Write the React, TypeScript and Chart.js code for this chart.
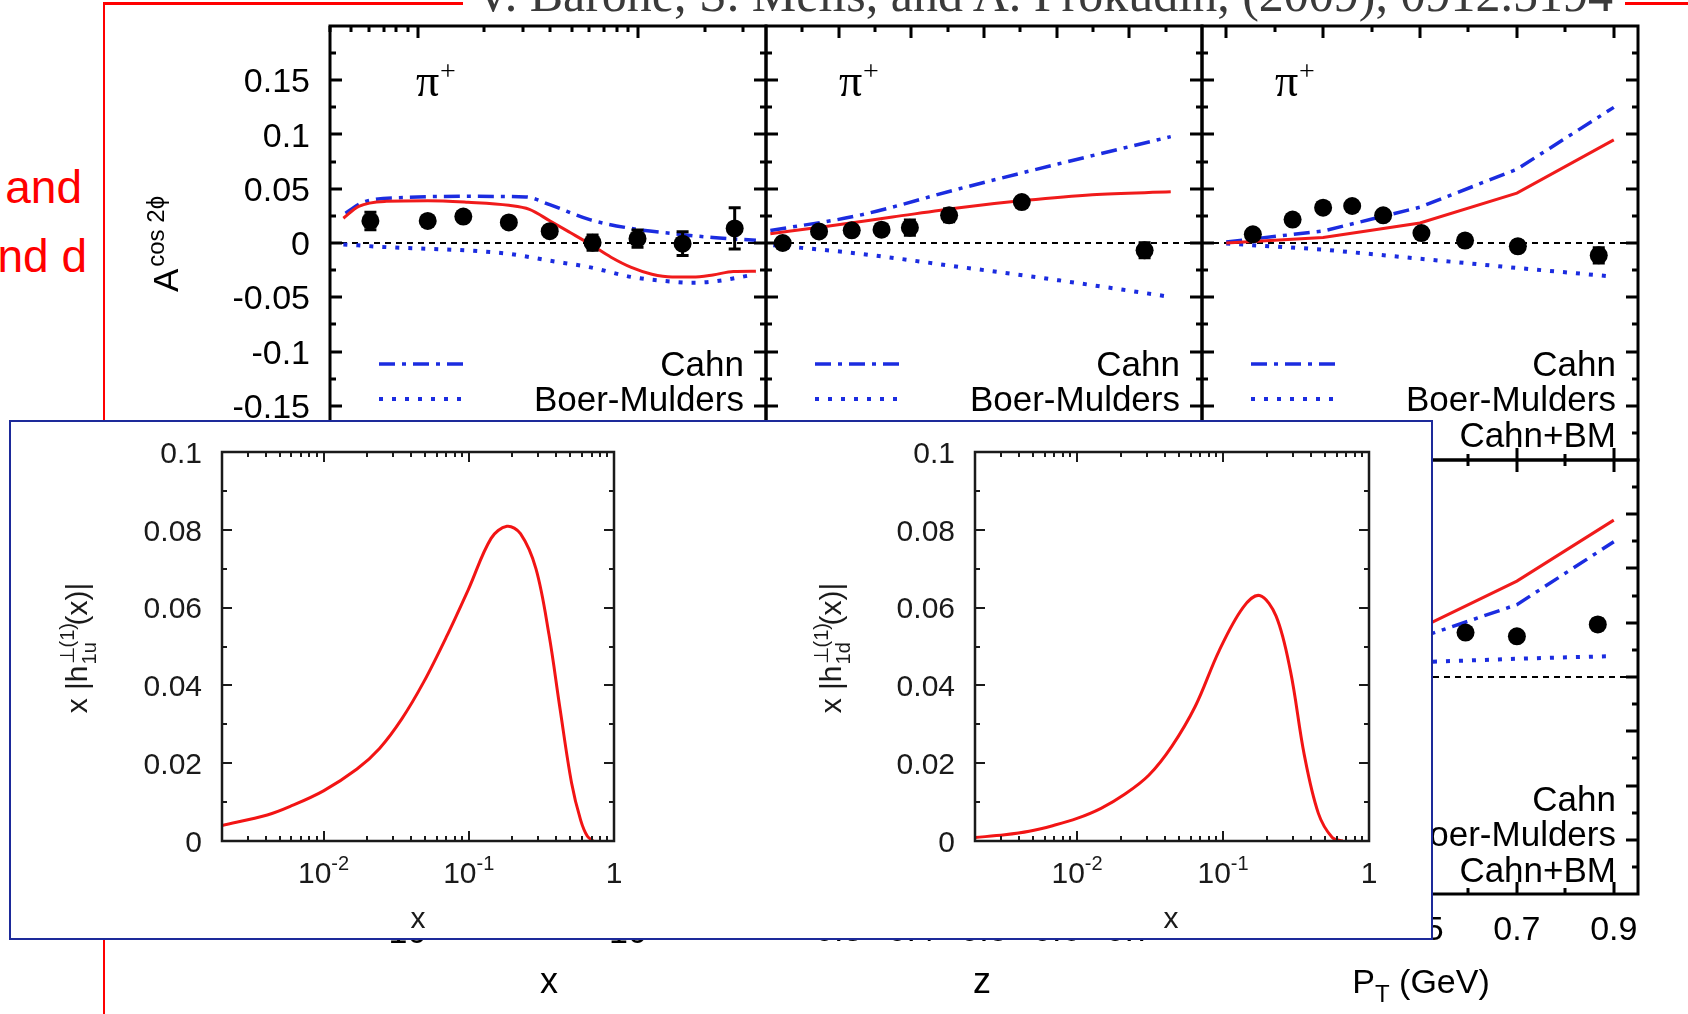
import React, { useEffect, useRef } from "react";
import { Chart, registerables } from "chart.js";

Chart.register(...registerables);

/* ================= values ================= */
// top row, x panel (log x)
const xCahnX = [0.0047, 0.0058, 0.0089, 0.0169, 0.0308, 0.0397, 0.0608, 0.0931, 0.1426, 0.2183, 0.342];
const xCahnY = [0.0275, 0.0384, 0.042, 0.043, 0.0425, 0.0353, 0.0213, 0.0134, 0.0088, 0.005, 0.0025];
const xBMX = [0.0046, 0.0072, 0.0111, 0.0169, 0.0259, 0.0397, 0.0608, 0.0931, 0.1426, 0.1766, 0.2183, 0.342];
const xBMY = [-0.0013, -0.0038, -0.0053, -0.0069, -0.01, -0.0163, -0.0225, -0.0313, -0.0356, -0.0366, -0.0356, -0.0288];
const xSumX = [0.0046, 0.0054, 0.0072, 0.0111, 0.0169, 0.0259, 0.0321, 0.0397, 0.0491, 0.0608, 0.0753, 0.0931, 0.1154, 0.1426, 0.1766, 0.2183, 0.2704, 0.342];
const xSumY = [0.0228, 0.0338, 0.0384, 0.039, 0.0375, 0.0347, 0.031, 0.0205, 0.0097, -0.0013, -0.0131, -0.0225, -0.0288, -0.0313, -0.0313, -0.0294, -0.0263, -0.026];
const xDataX = [0.0061, 0.0111, 0.0161, 0.0259, 0.0397, 0.0621, 0.0993, 0.159, 0.274];
const xDataY = [0.0203, 0.0203, 0.0244, 0.019, 0.0109, 0.0003, 0.004, -0.0006, 0.0134];
const xDataErr = [0.008, 0.004, 0.004, 0.004, 0.004, 0.007, 0.008, 0.011, 0.019];

// top row, z panel
const zCahnX = [0.206, 0.328, 0.466, 0.603, 0.757];
const zCahnY = [0.0115, 0.0255, 0.05, 0.073, 0.098];
const zBMX = [0.21, 0.328, 0.466, 0.603, 0.757];
const zBMY = [-0.002, -0.0098, -0.022, -0.0344, -0.0497];
const zSumX = [0.206, 0.282, 0.374, 0.466, 0.557, 0.649, 0.757];
const zSumY = [0.0086, 0.0153, 0.0239, 0.0325, 0.0393, 0.0445, 0.0472];
const zDataX = [0.223, 0.273, 0.318, 0.359, 0.398, 0.452, 0.552, 0.721];
const zDataY = [0.0, 0.0107, 0.0117, 0.0123, 0.0141, 0.0255, 0.0377, -0.0067];
const zDataErr = [0.003, 0.004, 0.004, 0.005, 0.007, 0.006, 0.004, 0.007];

// top row, PT panel
const ptCurveX = [0.1, 0.3, 0.5, 0.7, 0.9];
const ptCahnY = [0.001, 0.011, 0.033, 0.068, 0.125];
const ptBMY = [-0.0005, -0.006, -0.0145, -0.023, -0.031];
const ptSumY = [0.0, 0.005, 0.0184, 0.046, 0.095];
const ptDataX = [0.155, 0.237, 0.3, 0.36, 0.424, 0.503, 0.593, 0.702, 0.869];
const ptDataY = [0.008, 0.0216, 0.0326, 0.0341, 0.0255, 0.0092, 0.0022, -0.0031, -0.0114];
const ptDataErr = [0.003, 0.003, 0.003, 0.003, 0.004, 0.004, 0.005, 0.005, 0.007];

// second row, PT panel (visible part)
const pt2CurveX = [0.5, 0.7, 0.9];
const pt2CahnY = [0.0363, 0.0667, 0.1246];
const pt2BMY = [0.0137, 0.0168, 0.0193];
const pt2SumY = [0.045, 0.0884, 0.1446];
const pt2DataX = [0.594, 0.7, 0.867];
const pt2DataY = [0.041, 0.0375, 0.0484];
const pt2DataErr = [0.004, 0.004, 0.005];

// inset: x |h1u(1)(x)|
const uX = [0.002, 0.0041, 0.0059, 0.01, 0.017, 0.0243, 0.0346, 0.049, 0.07, 0.1, 0.1425, 0.183, 0.227, 0.29, 0.357, 0.425, 0.51, 0.59, 0.656, 0.72];
const uY = [0.004, 0.0067, 0.0089, 0.0129, 0.0185, 0.0238, 0.0314, 0.0409, 0.0524, 0.0649, 0.0778, 0.0809, 0.079, 0.07, 0.053, 0.034, 0.015, 0.0053, 0.0012, 0.0];
// inset: x |h1d(1)(x)|
const dX = [0.002, 0.0032, 0.0047, 0.0069, 0.01, 0.0146, 0.0212, 0.031, 0.0447, 0.0647, 0.094, 0.137, 0.178, 0.231, 0.29, 0.36, 0.45, 0.56, 0.66];
const dY = [0.0009, 0.0016, 0.0025, 0.004, 0.0058, 0.0084, 0.012, 0.0169, 0.0244, 0.0347, 0.0489, 0.06, 0.0631, 0.0578, 0.0436, 0.0222, 0.0071, 0.0009, 0.0];

// tick labels
const asymTickValues = [0.15, 0.1, 0.05, 0, -0.05, -0.1, -0.15];
const asymTickLabels = ["0.15", "0.1", "0.05", "0", "-0.05", "-0.1", "-0.15"];
const zTickValues = [0.3, 0.4, 0.5, 0.6, 0.7];
const zTickLabels = ["0.3", "0.4", "0.5", "0.6", "0.7"];
const ptTickValues = [0.1, 0.3, 0.5, 0.7, 0.9];
const ptTickLabels = ["0.1", "0.3", "0.5", "0.7", "0.9"];
const xLogTickValues = [0.01, 0.1];
const xLogTickExps = ["-2", "-1"];
const insetXTickValues = [0.01, 0.1, 1];
const insetXTickMain = ["10", "10", "1"];
const insetXTickExps = ["-2", "-1", ""];
const insetYTickValues = [0, 0.02, 0.04, 0.06, 0.08, 0.1];
const insetYTickLabels = ["0", "0.02", "0.04", "0.06", "0.08", "0.1"];

/* ================= styling ================= */
const SANS = "'Liberation Sans', Arial, Helvetica, sans-serif";
const SERIF = "'Liberation Serif', 'Times New Roman', Times, serif";
const BLUE = "#1b2ce0";
const RED = "#f01b1b";
const SLIDE_RED = "#ff0000";
const DASHDOT = [16, 7, 4, 7];
const DOTS = [4, 9];

type XY = { x: number; y: number };
const pts = (xs: number[], ys: number[]): XY[] => xs.map((x, i) => ({ x, y: ys[i] }));

const logTicks = (min: number, max: number) => {
  const major: number[] = [];
  const minor: number[] = [];
  for (let e = -4; e <= 1; e++)
    for (let k = 1; k <= 9; k++) {
      const v = k * Math.pow(10, e);
      if (v < min * 0.999 || v > max * 1.001) continue;
      (k === 1 ? major : minor).push(v);
    }
  return { major, minor };
};
const stepTicks = (a: number, b: number, s: number) => {
  const r: number[] = [];
  for (let v = a; v <= b + 1e-9; v += s) r.push(+v.toFixed(6));
  return r;
};

function makeGp(o: any) {
  return {
    id: "gp",
    afterDatasetsDraw(chart: any) {
      const { ctx, chartArea: a } = chart;
      const xs = chart.scales.x;
      const ys = chart.scales.y;
      ctx.save();
      ctx.beginPath();
      ctx.rect(a.left, a.top, a.right - a.left, a.bottom - a.top);
      ctx.clip();
      chart.data.datasets.forEach((ds: any) => {
        if (!ds.errors) return;
        ctx.strokeStyle = "#000";
        ctx.lineWidth = 3;
        ctx.setLineDash([]);
        ds.data.forEach((p: any, i: number) => {
          const e = ds.errors[i];
          const px = xs.getPixelForValue(p.x);
          const y1 = ys.getPixelForValue(p.y + e);
          const y2 = ys.getPixelForValue(p.y - e);
          ctx.beginPath();
          ctx.moveTo(px, y1);
          ctx.lineTo(px, y2);
          ctx.moveTo(px - 6, y1);
          ctx.lineTo(px + 6, y1);
          ctx.moveTo(px - 6, y2);
          ctx.lineTo(px + 6, y2);
          ctx.stroke();
        });
      });
      (o.keys || []).forEach((k: any) => {
        ctx.strokeStyle = k.color;
        ctx.lineWidth = k.width;
        ctx.lineCap = "butt";
        ctx.setLineDash(k.dash);
        ctx.beginPath();
        ctx.moveTo(a.left + k.x0, a.top + k.y);
        ctx.lineTo(a.left + k.x1, a.top + k.y);
        ctx.stroke();
      });
      ctx.restore();
    },
    afterDraw(chart: any) {
      const { ctx, chartArea: a } = chart;
      const xs = chart.scales.x;
      const ys = chart.scales.y;
      ctx.save();
      ctx.strokeStyle = o.color;
      ctx.fillStyle = o.color;
      ctx.setLineDash([]);
      ctx.lineCap = "butt";
      ctx.lineWidth = o.tickWidth;
      const xt = (vals: number[], len: number) =>
        vals.forEach((v) => {
          const px = Math.round(xs.getPixelForValue(v));
          ctx.beginPath();
          ctx.moveTo(px, a.top);
          ctx.lineTo(px, a.top + len);
          ctx.moveTo(px, a.bottom);
          ctx.lineTo(px, a.bottom - len);
          ctx.stroke();
        });
      const yt = (vals: number[], len: number) =>
        vals.forEach((v) => {
          const py = Math.round(ys.getPixelForValue(v));
          ctx.beginPath();
          ctx.moveTo(a.left, py);
          ctx.lineTo(a.left + len, py);
          ctx.moveTo(a.right, py);
          ctx.lineTo(a.right - len, py);
          ctx.stroke();
        });
      xt(o.xMajor, o.majorLen);
      xt(o.xMinor, o.minorLen);
      yt(o.yMajor, o.majorLen);
      yt(o.yMinor, o.minorLen);
      ctx.lineWidth = o.frameWidth;
      ctx.strokeRect(a.left, a.top, a.right - a.left, a.bottom - a.top);
      const fs = o.fs;
      ctx.textBaseline = "alphabetic";
      (o.yLabels || []).forEach((l: any) => {
        const py = ys.getPixelForValue(l.v);
        ctx.font = `${fs}px ${SANS}`;
        ctx.textAlign = "right";
        ctx.fillText(l.t, a.left - o.yGap, py + 0.36 * fs);
      });
      (o.xLabels || []).forEach((l: any) => {
        const px = xs.getPixelForValue(l.v);
        const sfs = Math.round(fs * 0.68);
        ctx.font = `${fs}px ${SANS}`;
        const w1 = ctx.measureText(l.t).width;
        let w2 = 0;
        if (l.s) {
          ctx.font = `${sfs}px ${SANS}`;
          w2 = ctx.measureText(l.s).width;
        }
        const x0 = px - (w1 + w2) / 2;
        const base = a.bottom + o.xBase;
        ctx.textAlign = "left";
        ctx.font = `${fs}px ${SANS}`;
        ctx.fillText(l.t, x0, base);
        if (l.s) {
          ctx.font = `${sfs}px ${SANS}`;
          ctx.fillText(l.s, x0 + w1, base - 0.45 * fs);
        }
      });
      ctx.restore();
    },
  };
}

const curveDs = (xs: number[], ys: number[], color: string, width: number, dash: number[], smooth: any) => ({
  data: pts(xs, ys),
  borderColor: color,
  borderWidth: width,
  borderDash: dash,
  borderCapStyle: "butt",
  pointRadius: 0,
  pointHoverRadius: 0,
  fill: false,
  tension: typeof smooth === "number" ? smooth : 0,
  cubicInterpolationMode: smooth === true ? "monotone" : "default",
});

function asymConfig(o: any, pad: number[]) {
  const datasets: any[] = [];
  if (o.data)
    datasets.push({
      data: pts(o.data[0], o.data[1]),
      errors: o.data[2],
      showLine: false,
      pointRadius: 9,
      pointHoverRadius: 9,
      pointBackgroundColor: "#000",
      pointBorderColor: "#000",
      pointBorderWidth: 0,
      borderColor: "#000",
    });
  if (o.sum) datasets.push(curveDs(o.sum[0], o.sum[1], RED, 3, [], o.smooth));
  if (o.cahn) datasets.push(curveDs(o.cahn[0], o.cahn[1], BLUE, 3.5, DASHDOT, o.smooth));
  if (o.bm) datasets.push(curveDs(o.bm[0], o.bm[1], BLUE, 4, DOTS, o.smooth));
  datasets.push({
    data: [
      { x: o.xMin, y: 0 },
      { x: o.xMax, y: 0 },
    ],
    borderColor: "#000",
    borderWidth: 2,
    borderDash: [6, 5],
    pointRadius: 0,
    tension: 0,
  });
  const yMajor = stepTicks(-0.15, 0.15, 0.05);
  const yMinor = stepTicks(-0.175, 0.175, 0.05);
  const gp = makeGp({
    color: "#000",
    tickWidth: 3,
    frameWidth: 3,
    majorLen: 12,
    minorLen: 6,
    xMajor: o.xMajor,
    xMinor: o.xMinor,
    yMajor,
    yMinor,
    fs: 34,
    yGap: 20,
    yLabels: o.yLabels ? asymTickValues.map((v, i) => ({ v, t: asymTickLabels[i] })) : [],
    xLabels: o.xLabels || [],
    xBase: o.xBase || 46,
    keys: o.keys
      ? [
          { x0: 49, x1: 135, y: 338, color: BLUE, width: 3.5, dash: DASHDOT },
          { x0: 49, x1: 135, y: 373, color: BLUE, width: 4, dash: DOTS },
        ]
      : [],
  });
  return {
    type: "line",
    data: { datasets },
    options: {
      animation: false,
      responsive: false,
      maintainAspectRatio: false,
      events: [],
      layout: { autoPadding: false, padding: { left: pad[0], top: pad[1], right: pad[2], bottom: pad[3] } },
      plugins: { legend: { display: false }, tooltip: { enabled: false } },
      scales: {
        x: { type: o.xType, min: o.xMin, max: o.xMax, display: false },
        y: { type: "linear", min: -0.2, max: 0.2, display: false },
      },
    },
    plugins: [gp],
  };
}

function insetConfig(xs: number[], ys: number[], pad: number[]) {
  const lt = logTicks(0.002, 1);
  const gp = makeGp({
    color: "#1a1a1a",
    tickWidth: 2,
    frameWidth: 2.5,
    majorLen: 10,
    minorLen: 5,
    xMajor: lt.major,
    xMinor: lt.minor,
    yMajor: stepTicks(0, 0.1, 0.02),
    yMinor: stepTicks(0.01, 0.09, 0.02),
    fs: 30,
    yGap: 20,
    yLabels: insetYTickValues.map((v, i) => ({ v, t: insetYTickLabels[i] })),
    xLabels: insetXTickValues.map((v, i) => ({ v, t: insetXTickMain[i], s: insetXTickExps[i] })),
    xBase: 42,
    keys: [],
  });
  return {
    type: "line",
    data: { datasets: [curveDs(xs, ys, "#f21414", 3, [], 0.35)] },
    options: {
      animation: false,
      responsive: false,
      maintainAspectRatio: false,
      events: [],
      layout: { autoPadding: false, padding: { left: pad[0], top: pad[1], right: pad[2], bottom: pad[3] } },
      plugins: { legend: { display: false }, tooltip: { enabled: false } },
      scales: {
        x: { type: "logarithmic", min: 0.002, max: 1, display: false },
        y: { type: "linear", min: 0, max: 0.1, display: false },
      },
    },
    plugins: [gp],
  };
}

function ChartBox({ x, y, w, h, pad, make }: any) {
  const ref = useRef<HTMLCanvasElement>(null);
  useEffect(() => {
    const c = new Chart(ref.current as HTMLCanvasElement, make(pad) as any);
    return () => c.destroy();
  }, []);
  const W = w + pad[0] + pad[2];
  const H = h + pad[1] + pad[3];
  return (
    <canvas
      ref={ref}
      width={W}
      height={H}
      style={{ position: "absolute", left: x - pad[0], top: y - pad[1], width: W, height: H }}
    />
  );
}

// text positioned by its baseline
function T({ x, y, size, align = "left", serif = false, color = "#000", children }: any) {
  const asc = serif ? 0.8375 : 0.8465;
  const W = 1200;
  const left = align === "left" ? x : align === "right" ? x - W : x - W / 2;
  return (
    <div
      style={{
        position: "absolute",
        left,
        top: y - asc * size,
        width: W,
        textAlign: align,
        fontSize: size,
        lineHeight: `${size}px`,
        fontFamily: serif ? SERIF : SANS,
        color,
        whiteSpace: "nowrap",
      }}
    >
      {children}
    </div>
  );
}

function Rot({ cx, cy, size, color = "#000", children }: any) {
  return (
    <div
      style={{
        position: "absolute",
        left: cx - 150,
        top: cy - 20,
        width: 300,
        height: 40,
        lineHeight: "40px",
        textAlign: "center",
        transform: "rotate(-90deg)",
        transformOrigin: "50% 50%",
        fontFamily: SANS,
        fontSize: size,
        color,
        whiteSpace: "nowrap",
      }}
    >
      {children}
    </div>
  );
}

const PANEL_L = [330, 766, 1202];
const PANEL_W = 436;
const ROW_T = [26, 460];
const ROW_H = 434;
const PAD = [110, 20, 30, 70];

export default function App() {
  const xLog = logTicks(0.004, 0.38);
  const zMajor = stepTicks(0.3, 0.7, 0.1);
  const zMinor = stepTicks(0.25, 0.75, 0.1);
  const ptMajor = stepTicks(0.1, 0.9, 0.2);
  const ptMinor = stepTicks(0.2, 0.8, 0.2);

  const xBase = { xType: "logarithmic", xMin: 0.004, xMax: 0.38, xMajor: xLog.major, xMinor: xLog.minor, smooth: true };
  const zBase = { xType: "linear", xMin: 0.2, xMax: 0.8, xMajor: zMajor, xMinor: zMinor, smooth: true };
  const ptBase = { xType: "linear", xMin: 0.05, xMax: 0.95, xMajor: ptMajor, xMinor: ptMinor, smooth: false };

  const legendRight = PANEL_L.map((l) => l + PANEL_W - 22);
  const piLeft = [416, 839, 1275];

  return (
    <div style={{ position: "absolute", left: 0, top: 0, width: 1688, height: 1014, overflow: "hidden", background: "#fff" }}>
      {/* slide decorations */}
      <div style={{ position: "absolute", left: 103, top: 2, width: 360, height: 3, background: SLIDE_RED }} />
      <div style={{ position: "absolute", left: 1625, top: 2, width: 63, height: 3, background: SLIDE_RED }} />
      <div style={{ position: "absolute", left: 103, top: 2, width: 2, height: 1012, background: SLIDE_RED }} />
      <T x={475} y={11} size={50} serif color="#3a3a3a">
        V. Barone, S. Melis, and A. Prokudin, (2009), 0912.5194
      </T>
      <T x={82} y={203} size={46} align="right" color={SLIDE_RED}>
        and
      </T>
      <T x={87} y={272} size={46} align="right" color={SLIDE_RED}>
        nd d
      </T>

      {/* top row */}
      <ChartBox x={PANEL_L[0]} y={ROW_T[0]} w={PANEL_W} h={ROW_H} pad={PAD}
        make={(p: number[]) => asymConfig({ ...xBase, yLabels: true, keys: true, cahn: [xCahnX, xCahnY], bm: [xBMX, xBMY], sum: [xSumX, xSumY], data: [xDataX, xDataY, xDataErr] }, p)} />
      <ChartBox x={PANEL_L[1]} y={ROW_T[0]} w={PANEL_W} h={ROW_H} pad={PAD}
        make={(p: number[]) => asymConfig({ ...zBase, keys: true, cahn: [zCahnX, zCahnY], bm: [zBMX, zBMY], sum: [zSumX, zSumY], data: [zDataX, zDataY, zDataErr] }, p)} />
      <ChartBox x={PANEL_L[2]} y={ROW_T[0]} w={PANEL_W} h={ROW_H} pad={PAD}
        make={(p: number[]) => asymConfig({ ...ptBase, keys: true, cahn: [ptCurveX, ptCahnY], bm: [ptCurveX, ptBMY], sum: [ptCurveX, ptSumY], data: [ptDataX, ptDataY, ptDataErr] }, p)} />

      {/* second row */}
      <ChartBox x={PANEL_L[0]} y={ROW_T[1]} w={PANEL_W} h={ROW_H} pad={PAD}
        make={(p: number[]) => asymConfig({ ...xBase, yLabels: true, xBase: 49, xLabels: xLogTickValues.map((v, i) => ({ v, t: "10", s: xLogTickExps[i] })) }, p)} />
      <ChartBox x={PANEL_L[1]} y={ROW_T[1]} w={PANEL_W} h={ROW_H} pad={PAD}
        make={(p: number[]) => asymConfig({ ...zBase, xBase: 47, xLabels: zTickValues.map((v, i) => ({ v, t: zTickLabels[i] })) }, p)} />
      <ChartBox x={PANEL_L[2]} y={ROW_T[1]} w={PANEL_W} h={ROW_H} pad={PAD}
        make={(p: number[]) => asymConfig({ ...ptBase, xBase: 46, xLabels: ptTickValues.map((v, i) => ({ v, t: ptTickLabels[i] })), cahn: [pt2CurveX, pt2CahnY], bm: [pt2CurveX, pt2BMY], sum: [pt2CurveX, pt2SumY], data: [pt2DataX, pt2DataY, pt2DataErr] }, p)} />

      {/* annotations of the underlying figure */}
      {piLeft.map((l, i) => (
        <React.Fragment key={"pi" + i}>
          <T x={l} y={97} size={46} serif>π</T>
          <T x={l + 24} y={80} size={28} serif>+</T>
        </React.Fragment>
      ))}
      {legendRight.map((r, i) => (
        <React.Fragment key={"lg" + i}>
          <T x={r} y={376} size={35} align="right">Cahn</T>
          <T x={r} y={411} size={35} align="right">Boer-Mulders</T>
          <T x={r} y={447} size={35} align="right">Cahn+BM</T>
        </React.Fragment>
      ))}
      <T x={legendRight[2]} y={811} size={35} align="right">Cahn</T>
      <T x={legendRight[2]} y={846} size={35} align="right">Boer-Mulders</T>
      <T x={legendRight[2]} y={882} size={35} align="right">Cahn+BM</T>
      <Rot cx={166} cy={244} size={35}>
        A<span style={{ fontSize: 24, position: "relative", top: -14, marginLeft: 2 }}>cos 2ϕ</span>
      </Rot>
      <T x={549} y={993} size={36} align="center">x</T>
      <T x={982} y={993} size={36} align="center">z</T>
      <T x={1421} y={993} size={34} align="center">
        P<span style={{ fontSize: 24, position: "relative", top: 9 }}>T</span> (GeV)
      </T>

      {/* overlay box with the two insets */}
      <div style={{ position: "absolute", left: 9, top: 420, width: 1424, height: 520, boxSizing: "border-box", border: "2px solid #1d2a9a", background: "#fff" }} />
      <ChartBox x={222} y={452} w={392} h={389} pad={[110, 30, 20, 60]} make={(p: number[]) => insetConfig(uX, uY, p)} />
      <ChartBox x={975} y={452} w={394} h={389} pad={[110, 30, 20, 60]} make={(p: number[]) => insetConfig(dX, dY, p)} />
      <T x={418} y={928} size={30} align="center" color="#1a1a1a">x</T>
      <T x={1171} y={928} size={30} align="center" color="#1a1a1a">x</T>
      {[
        { cx: 77, sub: "1u" },
        { cx: 831, sub: "1d" },
      ].map((t, i) => (
        <Rot key={"yt" + i} cx={t.cx} cy={648} size={30} color="#1a1a1a">
          x |h
          <span style={{ display: "inline-block", position: "relative", width: 40, height: 0, fontSize: 20, lineHeight: "20px" }}>
            <span style={{ position: "absolute", left: 1, top: -30 }}>⊥(1)</span>
            <span style={{ position: "absolute", left: 1, top: -8 }}>{t.sub}</span>
          </span>
          (x)|
        </Rot>
      ))}
    </div>
  );
}
